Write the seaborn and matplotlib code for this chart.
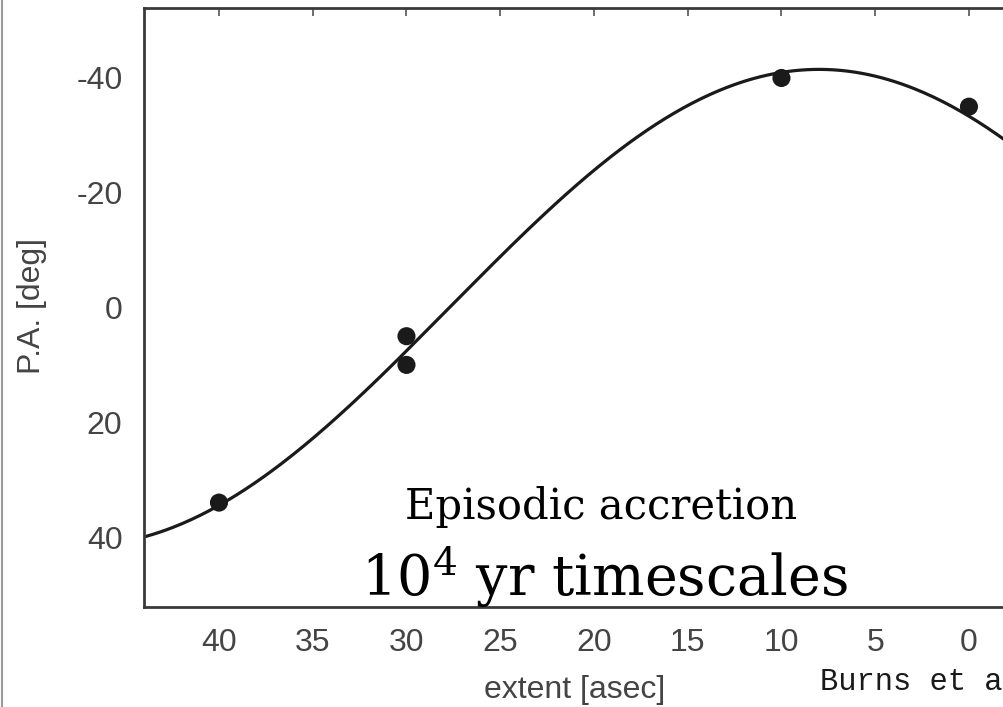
import numpy as np
import pandas as pd
import matplotlib
matplotlib.use("Agg")
import matplotlib.pyplot as plt
from matplotlib.lines import Line2D
import seaborn as sns

# Measured position angles of the jet knots
extent_asec = [40, 30, 30, 10, 0]
pa_deg = [34, 5, 10, -40, -35]

# Precession model fitted to the knots: PA = -amp * cos(2*pi*(extent - peak) / period)
model_amp = 41.5
model_peak = 8.0
model_period = 78.8

x_ticks = [40, 35, 30, 25, 20, 15, 10, 5, 0]
y_ticks = [-40, -20, 0, 20, 40]

sns.set_style("white")
plt.rcParams["axes.unicode_minus"] = False
plt.rcParams["mathtext.fontset"] = "dejavuserif"
plt.rcParams["font.family"] = ["Liberation Sans", "DejaVu Sans"]

fig = plt.figure(figsize=(10.04, 7.07), dpi=100)
ax = fig.add_axes([0.1434, 0.1414, 0.8964, 0.8473])

grid = np.linspace(-4, 44, 400)
model = pd.DataFrame({"extent": grid,
                      "pa": -model_amp * np.cos(2 * np.pi * (grid - model_peak) / model_period)})
knots = pd.DataFrame({"extent": extent_asec, "pa": pa_deg})

sns.lineplot(data=model, x="extent", y="pa", ax=ax, color="#1a1a1a", linewidth=2.3)
sns.scatterplot(data=knots, x="extent", y="pa", ax=ax, color="#1a1a1a", s=170,
                edgecolor="none", zorder=3)

ax.set_xlim(44, -4)
ax.set_ylim(52.2, -52.2)
ax.set_xticks(x_ticks)
ax.set_yticks(y_ticks)
ax.set_xticklabels([str(v) for v in x_ticks])
ax.set_yticklabels([str(v) for v in y_ticks])

for side in ["left", "bottom", "top", "right"]:
    ax.spines[side].set_color("#3a3a3a")
    ax.spines[side].set_linewidth(2.0)
ax.tick_params(direction="in", length=6, width=1.2, color="#555555",
               top=True, right=True, labelsize=23, labelcolor="#444444")
ax.tick_params(axis="x", pad=15)
ax.tick_params(axis="y", pad=15.5)

ax.set_xlabel("extent [asec]", fontsize=23, color="#444444")
ax.set_ylabel("P.A. [deg]", fontsize=23, color="#444444")
ax.xaxis.set_label_coords(0.479, -0.1135)
ax.yaxis.set_label_coords(-0.108, 0.503)

ax.text(0.508, 0.167, "Episodic accretion", transform=ax.transAxes,
        ha="center", va="center", fontsize=30, family="DejaVu Serif", color="black")
ax.text(0.512, 0.05, r"10$^{4}$ yr timescales", transform=ax.transAxes,
        ha="center", va="center", fontsize=40, family="DejaVu Serif", color="black")

fig.text(820 / 1004, 1 - 682 / 707, "Burns et al. 2016", ha="left", va="center",
         fontsize=22, family="Liberation Mono", color="#1a1a1a")

# thin border along the left edge of the slide
fig.add_artist(Line2D([2.5 / 1004, 2.5 / 1004], [0, 1], transform=fig.transFigure,
                      color="#9a9a9a", linewidth=1.5))

fig.savefig("out.png", dpi=100, facecolor="white")
